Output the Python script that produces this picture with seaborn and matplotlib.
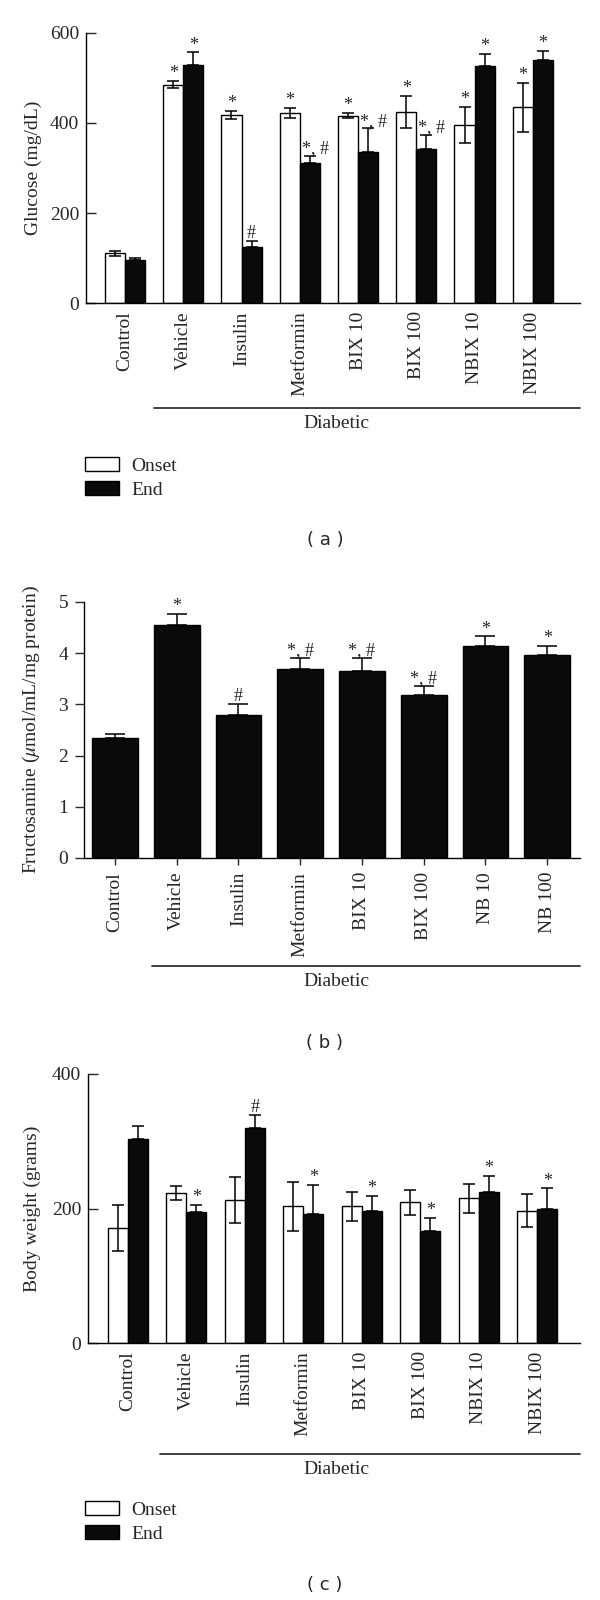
import matplotlib
matplotlib.use('Agg')
import matplotlib.pyplot as plt
import matplotlib.transforms as mtransforms
from matplotlib.patches import Patch
import pandas as pd
import seaborn as sns

# Data
groups = ['Control', 'Vehicle', 'Insulin', 'Metformin', 'BIX 10', 'BIX 100', 'NBIX 10', 'NBIX 100']
groups_b = ['Control', 'Vehicle', 'Insulin', 'Metformin', 'BIX 10', 'BIX 100', 'NB 10', 'NB 100']

glucose_onset = [110, 485, 418, 422, 416, 424, 395, 435]
glucose_onset_err = [6, 8, 9, 12, 6, 36, 40, 54]
glucose_end = [95, 529, 125, 310, 336, 342, 527, 541]
glucose_end_err = [6, 28, 13, 17, 52, 32, 26, 20]
glucose_onset_marks = ['', '*', '*', '*', '*', '*', '*', '*']
glucose_end_marks = ['', '*', '#', '*, #', '*, #', '*, #', '*', '*']

fructosamine = [2.34, 4.55, 2.79, 3.69, 3.66, 3.18, 4.14, 3.97]
fructosamine_err = [0.08, 0.22, 0.22, 0.21, 0.24, 0.18, 0.19, 0.17]
fructosamine_marks = ['', '*', '#', '*, #', '*, #', '*, #', '*', '*']

weight_onset = [171, 223, 213, 203, 203, 209, 215, 197]
weight_onset_err = [34, 10, 34, 37, 22, 19, 22, 24]
weight_end = [304, 195, 320, 192, 197, 167, 224, 200]
weight_end_err = [19, 10, 19, 43, 22, 19, 24, 30]
weight_onset_marks = [''] * 8
weight_end_marks = ['', '*', '#', '*', '*', '*', '*', '*']

BLACK = '#0a0a0a'

sns.set_style('ticks')
plt.rcParams['font.family'] = ['Liberation Serif', 'DejaVu Serif']
plt.rcParams['mathtext.fontset'] = 'stix'
plt.rcParams['axes.linewidth'] = 1.0

W, H = 600, 1600
fig = plt.figure(figsize=(6, 16), dpi=100)


def px_axes(left, right, top, bottom):
    return fig.add_axes([left / W, 1 - bottom / H, (right - left) / W, (bottom - top) / H])


def mark(ax, x, y, txt, shift=0):
    if txt:
        dx = shift if len(txt) > 1 else 0
        ax.annotate(txt, (x, y), xytext=(dx, 2), textcoords='offset points',
                    ha='center', va='baseline', fontsize=13)


def style_axes(ax, ylim, yticks, ylabel, ylabel_x, tick_dir):
    ax.set_ylim(*ylim)
    ax.set_yticks(yticks)
    ax.set_ylabel(ylabel, fontsize=14)
    ax.yaxis.set_label_coords(ylabel_x, 0.5)
    ax.set_xlabel('')
    sns.despine(ax=ax)
    ax.tick_params(axis='y', direction=tick_dir, length=7, width=1, labelsize=14, pad=5)
    ax.tick_params(axis='x', labelsize=14, rotation=90)
    for s in ['left', 'bottom']:
        ax.spines[s].set_color('black')


def diabetic(ax, x0, y_line, y_text):
    trans = mtransforms.blended_transform_factory(ax.transData, fig.transFigure)
    ax.plot([x0, ax.get_xlim()[1]], [1 - y_line / H] * 2, transform=trans,
            color='#333333', lw=1.3, clip_on=False)
    fig.text(336 / W, 1 - y_text / H, 'Diabetic', ha='center', va='center', fontsize=14)


def legend_at(top):
    handles = [Patch(facecolor='white', edgecolor='black', lw=1, label='Onset'),
               Patch(facecolor=BLACK, edgecolor='black', lw=1, label='End')]
    fig.legend(handles=handles, loc='upper left', bbox_to_anchor=(85 / W, 1 - top / H),
               frameon=False, borderpad=0, borderaxespad=0, handlelength=1.75,
               handleheight=0.75, handletextpad=0.65, labelspacing=0.3, fontsize=14)


def paired(ax, onset, onset_err, end, end_err, onset_marks, end_marks):
    df = pd.DataFrame({
        'group': groups * 2,
        'value': onset + end,
        'time': ['Onset'] * len(groups) + ['End'] * len(groups),
    })
    sns.barplot(data=df, x='group', y='value', hue='time', order=groups,
                hue_order=['Onset', 'End'], palette={'Onset': 'white', 'End': BLACK},
                width=0.69, edgecolor='black', linewidth=1, errorbar=None,
                legend=False, ax=ax)
    for cont, vals, errs, marks, upper_only in [
            (ax.containers[0], onset, onset_err, onset_marks, False),
            (ax.containers[1], end, end_err, end_marks, True)]:
        xs = [b.get_x() + b.get_width() / 2 for b in cont]
        lower = [0] * len(errs) if upper_only else errs
        ax.errorbar(xs, vals, yerr=[lower, errs], fmt='none', ecolor='black',
                    elinewidth=1.1, capsize=4, capthick=1.1, zorder=5)
        for x, v, e, m in zip(xs, vals, errs, marks):
            mark(ax, x, v + e, m, shift=4)


# (a) Glucose
ax1 = px_axes(86, 580, 33, 303)
paired(ax1, glucose_onset, glucose_onset_err, glucose_end, glucose_end_err,
       glucose_onset_marks, glucose_end_marks)
ax1.set_xlim(-0.67, 7.81)
style_axes(ax1, (0, 600), [0, 200, 400, 600], 'Glucose (mg/dL)', -0.089, 'in')
ax1.tick_params(axis='x', length=0, pad=6)
diabetic(ax1, 0.49, 408, 423)
legend_at(457)
fig.text(325 / W, 1 - 540 / H, '( a )', ha='center', va='center', fontsize=13,
         family='DejaVu Sans')

# (b) Fructosamine
ax2 = px_axes(84, 580, 602, 858)
sns.barplot(x=groups_b, y=fructosamine, order=groups_b, color=BLACK, width=0.74,
            edgecolor='black', linewidth=1, errorbar=None, ax=ax2)
xs_b = [b.get_x() + b.get_width() / 2 for b in ax2.containers[0]]
ax2.errorbar(xs_b, fructosamine, yerr=[[0] * len(fructosamine), fructosamine_err],
             fmt='none', ecolor='black', elinewidth=1.1, capsize=7, capthick=1.1, zorder=5)
for x, v, e, m in zip(xs_b, fructosamine, fructosamine_err, fructosamine_marks):
    mark(ax2, x, v + e, m)
ax2.set_xlim(-0.5, 7.53)
style_axes(ax2, (0, 5), [0, 1, 2, 3, 4, 5], 'Fructosamine ($\\mu$mol/mL/mg protein)',
           -0.085, 'out')
ax2.tick_params(axis='y', length=6.5)
ax2.tick_params(axis='x', direction='out', length=5, width=1, pad=5)
diabetic(ax2, 0.6, 966, 981)
fig.text(325 / W, 1 - 1043 / H, '( b )', ha='center', va='center', fontsize=13,
         family='DejaVu Sans')

# (c) Body weight
ax3 = px_axes(88, 580, 1074, 1343)
paired(ax3, weight_onset, weight_onset_err, weight_end, weight_end_err,
       weight_onset_marks, weight_end_marks)
ax3.set_xlim(-0.68, 7.73)
style_axes(ax3, (0, 400), [0, 200, 400], 'Body weight (grams)', -0.095, 'in')
ax3.tick_params(axis='x', length=0, pad=6)
diabetic(ax3, 0.55, 1454, 1469)
legend_at(1501)
fig.text(325 / W, 1 - 1585 / H, '( c )', ha='center', va='center', fontsize=13,
         family='DejaVu Sans')

fig.savefig('out.png', dpi=100, facecolor='white')
